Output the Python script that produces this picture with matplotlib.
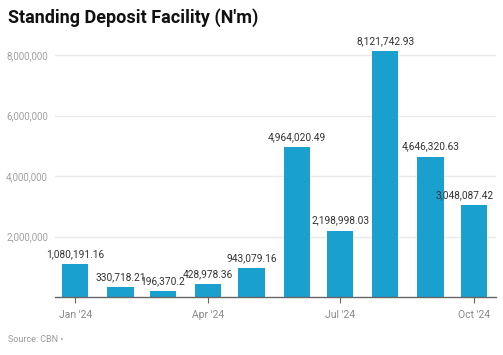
import matplotlib.pyplot as plt
import matplotlib.dates as mdates
import matplotlib.ticker as mticker
from datetime import datetime

plt.rcParams['font.family'] = ['Roboto', 'DejaVu Sans']

months = ["2024-01", "2024-02", "2024-03", "2024-04", "2024-05",
          "2024-06", "2024-07", "2024-08", "2024-09", "2024-10"]
values = [1080191.16, 330718.21, 196370.2, 428978.36, 943079.16,
          4964020.49, 2198998.03, 8121742.93, 4646320.63, 3048087.42]
labels = ["1,080,191.16", "330,718.21", "196,370.2", "428,978.36", "943,079.16",
          "4,964,020.49", "2,198,998.03", "8,121,742.93", "4,646,320.63", "3,048,087.42"]
tick_months = ["2024-01", "2024-04", "2024-07", "2024-10"]
tick_labels = ["Jan '24", "Apr '24", "Jul '24", "Oct '24"]

dates = [datetime.strptime(m, "%Y-%m") for m in months]
xs = mdates.date2num(dates)

fig = plt.figure(figsize=(5.03, 3.55), dpi=100)
ax = fig.add_axes([55 / 503, 58 / 355, 441 / 503, 257 / 355])

ax.bar(xs, values, width=18, color="#1aa0cf", zorder=3)
for i, (x, v, t) in enumerate(zip(xs, values, labels)):
    # last label is nudged left so it stays inside the chart
    dx = -7 if i == len(values) - 1 else 0
    ax.annotate(t, (x, v), xytext=(dx, 3.5), textcoords="offset points",
                ha="center", va="bottom", fontsize=7.3, color="#333333", zorder=4)

ax.set_xlim(mdates.date2num(datetime(2023, 12, 18)), mdates.date2num(datetime(2024, 10, 16)))
ax.set_ylim(0, 8500000)

ax.set_yticks([2000000, 4000000, 6000000, 8000000])
ax.yaxis.set_major_formatter(mticker.FuncFormatter(lambda v, p: f"{int(v):,}"))
ax.grid(axis="y", color="#eaeaea", linewidth=1, zorder=0)
ax.tick_params(axis="y", length=0, labelsize=7, labelcolor="#a0a0a0", pad=5)

ax.set_xticks(mdates.date2num([datetime.strptime(m, "%Y-%m") for m in tick_months]))
ax.set_xticklabels(tick_labels)
ax.tick_params(axis="x", length=4, color="#666666", labelsize=7.5, labelcolor="#8a8a8a", pad=5)

for s in ["top", "right", "left"]:
    ax.spines[s].set_visible(False)
ax.spines["bottom"].set_color("#666666")
ax.spines["bottom"].set_linewidth(1)
ax.spines["bottom"].set_zorder(5)

fig.text(8 / 503, 1 - 18 / 355, "Standing Deposit Facility (N'm)", fontsize=13,
         fontweight="bold", color="#111111", va="center", ha="left")
fig.text(8 / 503, 1 - 340 / 355, "Source: CBN •", fontsize=6.5, color="#999999",
         va="center", ha="left")

plt.savefig("out.png", dpi=100)
